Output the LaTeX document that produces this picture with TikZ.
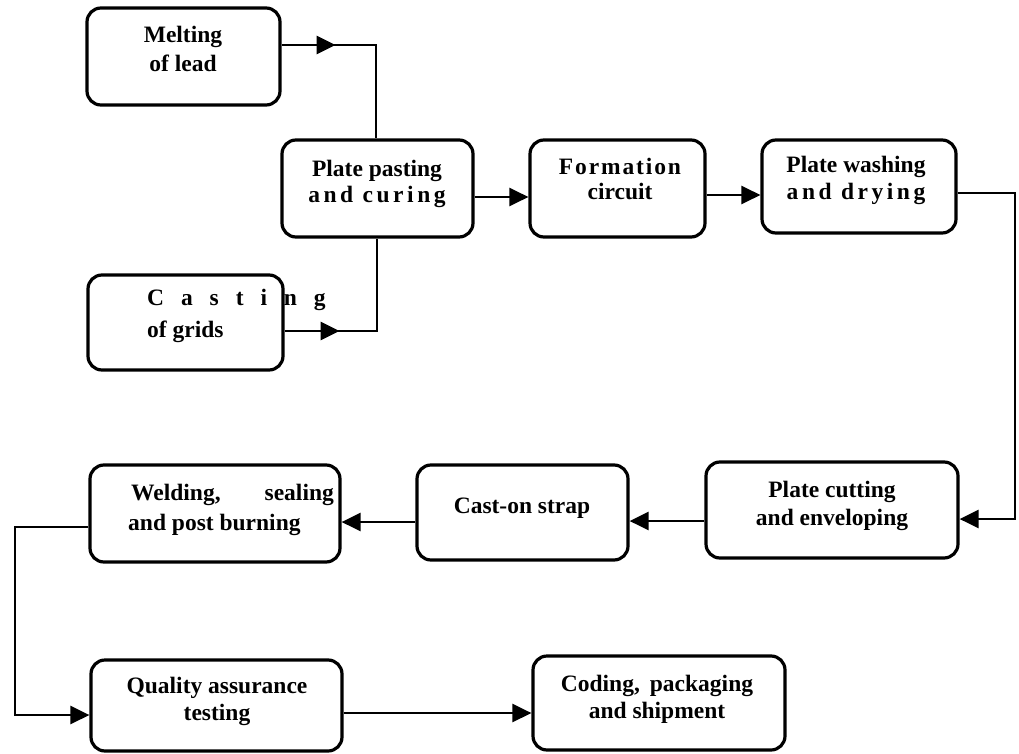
\documentclass[tikz,border=0pt]{standalone}
\usepackage{fontspec}
\setmainfont{Liberation Serif}
\usetikzlibrary{arrows.meta,decorations.markings}
\begin{document}
\begin{tikzpicture}[x=1pt,y=-1pt,
  box/.style={draw, line width=3.2pt, rounded corners=14pt, inner sep=0pt},
  txt/.style={inner sep=0pt, align=center, font=\bfseries\fontsize{23.5}{27}\selectfont},
  conn/.style={line width=2.8pt},
  arr/.style={conn, -{Triangle[length=19pt,width=18pt]}},
  midarr/.style={conn, postaction=decorate,
    decoration={markings, mark=at position #1 with {\arrow{Triangle[length=19pt,width=18pt]}}}}
]
\useasboundingbox (0,0) rectangle (1019,754);

% boxes
\node[box, minimum width=193pt, minimum height=97pt] (melt)  at (183.5,56.5) {};
\node[box, minimum width=191pt, minimum height=97pt] (paste) at (377.5,188.5) {};
\node[box, minimum width=175pt, minimum height=97pt] (form)  at (617.5,188.5) {};
\node[box, minimum width=194pt, minimum height=93pt] (wash)  at (859,186.5) {};
\node[box, minimum width=195pt, minimum height=95pt] (cast)  at (185.5,322.5) {};
\node[box, minimum width=252pt, minimum height=96pt] (cut)   at (832,510) {};
\node[box, minimum width=211pt, minimum height=95pt] (strap) at (522.5,512.5) {};
\node[box, minimum width=250pt, minimum height=97pt] (weld)  at (215,513.5) {};
\node[box, minimum width=251pt, minimum height=91pt] (qual)  at (216.5,705.5) {};
\node[box, minimum width=252pt, minimum height=94pt] (code)  at (659,703) {};

% texts
\node[txt, anchor=base] (melt-t) at (183,72) {Melting\\[2pt]of lead};
\node[txt, anchor=base] (paste-t) at (377,202) {Plate pasting\\[-2pt]{\addfontfeature{LetterSpace=15}and curing}};
\node[txt, anchor=base] (form-t) at (620,200) {{\addfontfeature{LetterSpace=8}Formation}\\[-2pt]circuit};
\node[txt, anchor=base] (wash-t) at (856,199) {Plate washing\\[-1pt]{\addfontfeature{LetterSpace=15}and drying}};
\node[txt, anchor=base west, align=left] (cast-t) at (147,337) {{\addfontfeature{LetterSpace=72}Casting}\\[5pt]of grids};
\node[txt, anchor=base west, align=left] (weld-t) at (128,530) {\hspace*{3pt}Welding,\hspace{44pt}sealing\\[3pt]and post burning};
\node[txt, anchor=base] (cut-t) at (832,525) {Plate cutting\\[1pt]and enveloping};
\node[txt, anchor=base] (strap-t) at (522,513) {Cast-on strap};
\node[txt, anchor=base] (qual-t) at (217,720) {Quality assurance\\testing};
\node[txt, anchor=base] (code-t) at (657,718) {Coding,\hspace{10pt}packaging\\and shipment};

% junction coordinates
\coordinate (jm) at (376,45);
\coordinate (jc) at (377,331);
\coordinate (jw1) at (1015,193);
\coordinate (jw2) at (1015,519);
\coordinate (jq1) at (15,527);
\coordinate (jq2) at (15,715);

% connectors
\draw[midarr=54pt] (jm -| melt.east) -- (jm) -- (jm |- paste.north);
\draw[midarr=55pt] (jc -| cast.east) -- (jc) -- (jc |- paste.south);
\draw[arr] ([yshift=-8.5pt]paste.east) -- ([yshift=-8.5pt]paste.east -| form.west);
\draw[arr] ([yshift=-6.5pt]form.east) -- ([yshift=-6.5pt]form.east -| wash.west);
\draw[arr] (jw1 -| wash.east) -- (jw1) -- (jw2) -- (jw2 -| cut.east);
\draw[arr] ([yshift=-11pt]cut.west) -- ([yshift=-11pt]cut.west -| strap.east);
\draw[arr] ([yshift=-9.5pt]strap.west) -- ([yshift=-9.5pt]strap.west -| weld.east);
\draw[arr] (jq1 -| weld.west) -- (jq1) -- (jq2) -- (jq2 -| qual.west);
\draw[arr] ([yshift=-7.5pt]qual.east) -- ([yshift=-7.5pt]qual.east -| code.west);
\end{tikzpicture}
\end{document}
